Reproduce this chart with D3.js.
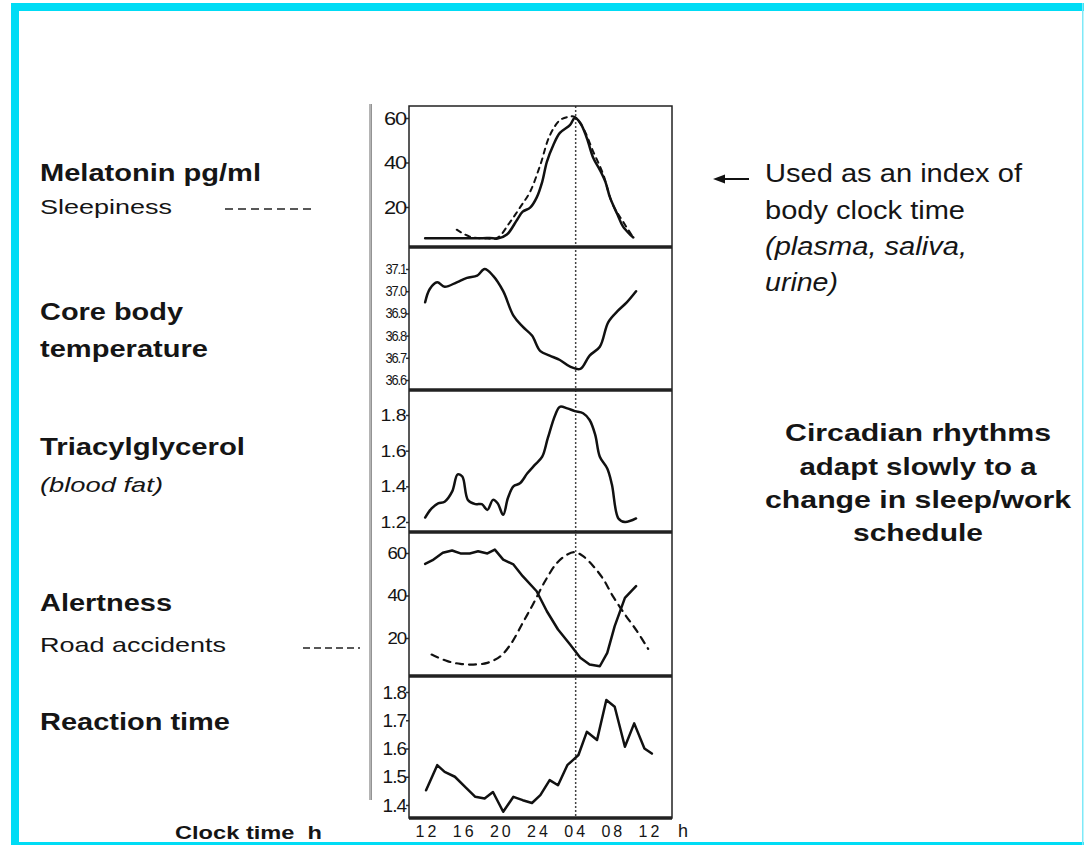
<!DOCTYPE html>
<html>
<head>
<meta charset="utf-8">
<script src="https://cdn.jsdelivr.net/npm/d3@7"></script>
<style>
body{margin:0;background:#fff}
svg{display:block}
text{font-family:"Liberation Sans",Arial,Helvetica,sans-serif;fill:#151515}
</style>
</head>
<body>
<svg id="grafico" width="1084" height="845"></svg>
<script>
// ---- dados (hora do relogio, 12 -> 36 = 12h do dia seguinte) ----
var rotulosX = ["12","16","20","24","04","08","12"];
var horasX = [12,16,20,24,28,32,36];

var melatonina = [[11.8,6],[14,6],[16,6],[18,6],[19.1,6],[19.6,5.8],[20.6,7.6],[21.7,14.3],[22.3,17.9],[23.1,19.7],[23.8,24.2],[24.4,31.3],[24.9,40.3],[25.6,47.9],[26.3,53.3],[27.4,56.9],[27.9,60],[28.5,57.8],[29.2,51],[29.9,42],[30.6,36.7],[31.2,31.3],[31.7,24.2],[32.5,16.6],[33.1,11.2],[34.2,6.3]];
var sonolencia = [[15.2,9.8],[16.6,6.7],[18.5,5.8],[19.6,6.2],[20.9,13],[22,19.7],[23.1,26.9],[24.2,39],[25.2,52],[26.3,59],[27.2,60.5],[27.9,60.5],[28.8,55.5],[29.9,44.8],[30.9,35.4],[32,21],[33.1,13.4],[34.2,6.3]];
var temperatura = [[11.8,36.95],[12.3,37.01],[13.1,37.04],[13.9,37.02],[15.2,37.04],[16.3,37.06],[17.4,37.07],[18.2,37.1],[19.1,37.07],[20.2,37.0],[21.3,36.89],[22.3,36.84],[23.3,36.8],[24.2,36.73],[25.2,36.71],[26.3,36.69],[27.4,36.66],[28.5,36.65],[29.5,36.71],[30.6,36.75],[31.5,36.86],[32.5,36.91],[33.5,36.95],[34.5,37.0]];
var triacilglicerol = [[11.8,1.225],[12.5,1.277],[13.2,1.305],[13.9,1.314],[14.7,1.37],[15.3,1.467],[15.8,1.455],[16.4,1.324],[17.2,1.3],[17.9,1.3],[18.5,1.268],[19.1,1.324],[19.6,1.305],[20.2,1.24],[20.7,1.333],[21.3,1.4],[22.0,1.417],[22.8,1.473],[23.6,1.52],[24.4,1.566],[25.0,1.67],[25.8,1.8],[26.3,1.846],[27.1,1.837],[27.9,1.822],[28.8,1.81],[29.5,1.772],[30.1,1.69],[30.6,1.566],[31.4,1.5],[31.9,1.41],[32.6,1.22],[33.3,1.2],[34.5,1.22]];
var alerta = [[11.8,54.9],[12.6,56.6],[13.7,60.1],[14.7,61.2],[15.6,59.8],[16.6,59.8],[17.5,60.8],[18.5,59.8],[19.3,61.6],[20.2,56.9],[21.3,54.6],[22.3,49.1],[23.8,42],[24.9,32.6],[26.1,24],[27.4,16.9],[28.5,10.7],[29.5,7.5],[30.6,6.7],[31.4,13],[32.2,25.6],[33.3,38.9],[34.5,44.4]];
var acidentes = [[12.5,12.2],[14.2,9.1],[15.6,7.8],[17.0,7.5],[18.5,8.3],[19.9,11.4],[21.1,17.7],[22.3,27.1],[23.4,35.8],[24.7,46.7],[26.0,55.4],[27.1,59.3],[27.9,60.4],[28.8,58.5],[29.9,53.8],[31.0,47.5],[32.0,39.7],[33.3,31.1],[34.6,23.2],[35.8,14.9]];
var reacao = [[11.9,1.452],[13.1,1.541],[13.9,1.517],[15.0,1.5],[16.1,1.464],[17.2,1.429],[18.2,1.423],[19.1,1.446],[20.2,1.376],[21.3,1.429],[22.3,1.417],[23.3,1.407],[24.2,1.435],[25.2,1.488],[26.1,1.47],[27.1,1.541],[27.7,1.559],[28.3,1.577],[29.2,1.659],[30.3,1.63],[31.3,1.772],[32.2,1.748],[33.3,1.606],[34.3,1.689],[35.4,1.6],[36.2,1.582]];

var ticksMel = [20,40,60];
var ticksTemp = [36.6,36.7,36.8,36.9,37.0,37.1];
var ticksTag = [1.2,1.4,1.6,1.8];
var ticksAlerta = [20,40,60];
var ticksReacao = [1.4,1.5,1.6,1.7,1.8];

// ---- layout ----
var svg = d3.select("#grafico");
var esq = 409, dir = 672;
var cortes = [106,247,390,532,676,818];
var ciano = "#00dcf5";

// moldura
svg.append("rect").attr("x",11).attr("y",3).attr("width",1073).attr("height",8).attr("fill",ciano);
svg.append("rect").attr("x",11).attr("y",3).attr("width",8).attr("height",842).attr("fill",ciano);
svg.append("rect").attr("x",11).attr("y",842).attr("width",1073).attr("height",3).attr("fill",ciano);
svg.append("rect").attr("x",1082).attr("y",3).attr("width",1.5).attr("height",842).attr("fill","#7fe9f8");

var x = d3.scaleLinear().domain([12,36]).range([427,650]);

var paineis = [
	{dom:[20,60], ran:[207,118], ticks:ticksMel, fmt:d3.format("d"), fs:19, sx:1.15, ls:-1},
	{dom:[36.6,37.1], ran:[380,269], ticks:ticksTemp, fmt:d3.format(".1f"), fs:14, sx:0.92, ls:-1.2},
	{dom:[1.2,1.8], ran:[522,415], ticks:ticksTag, fmt:d3.format(".1f"), fs:17, sx:1.15, ls:-0.5},
	{dom:[20,60], ran:[638,553], ticks:ticksAlerta, fmt:d3.format("d"), fs:17, sx:1.1, ls:-1},
	{dom:[1.4,1.8], ran:[805,692], ticks:ticksReacao, fmt:d3.format(".1f"), fs:19, sx:1.0, ls:-1}
];
paineis.forEach(function(p){ p.y = d3.scaleLinear().domain(p.dom).range(p.ran); });

// barra cinza a esquerda
svg.append("rect").attr("x",369).attr("y",104).attr("width",3).attr("height",696).attr("fill","#b4b4b4");
svg.append("line").attr("x1",371.5).attr("x2",371.5).attr("y1",104).attr("y2",800).attr("stroke","#8a8a8a").attr("stroke-width",0.8);

// eixos y
paineis.forEach(function(p, i){
	var g = svg.append("g").attr("transform","translate(" + esq + ",0)")
		.call(d3.axisLeft(p.y).tickValues(p.ticks).tickFormat(p.fmt).tickSize(3).tickPadding(2));
	g.select(".domain").remove();
	g.selectAll(".tick line").attr("stroke","#333").attr("stroke-width",1.5);
	g.selectAll(".tick text")
		.attr("font-family","Liberation Sans, Arial, sans-serif")
		.attr("font-size",p.fs).attr("fill","#2a2a2a")
		.attr("letter-spacing",p.ls)
		.attr("x", -3/p.sx)
		.attr("transform","scale(" + p.sx + ",1)");
});

// linha pontilhada das 04h
svg.append("line").attr("x1",x(28)).attr("x2",x(28)).attr("y1",cortes[0]).attr("y2",cortes[5])
	.attr("stroke","#444").attr("stroke-width",1.5).attr("stroke-dasharray","2,2");

// curvas
function desenha(dados, p, tracejado, curva, larg){
	var linha = d3.line().x(function(d){return x(d[0]);}).y(function(d){return p.y(d[1]);}).curve(curva);
	svg.append("path").datum(dados).attr("d",linha).attr("fill","none")
		.attr("stroke","#111").attr("stroke-width",larg)
		.attr("stroke-linejoin","round").attr("stroke-linecap","round")
		.attr("stroke-dasharray",tracejado ? tracejado : null);
}
var suave = d3.curveCatmullRom.alpha(0.5);
desenha(sonolencia, paineis[0], "5,5", suave, 2);
desenha(melatonina, paineis[0], null, suave, 2.5);
desenha(temperatura, paineis[1], null, suave, 2.5);
desenha(triacilglicerol, paineis[2], null, suave, 2.5);
desenha(acidentes, paineis[3], "7,6", suave, 2.2);
desenha(alerta, paineis[3], null, d3.curveLinear, 2.5);
desenha(reacao, paineis[4], null, d3.curveLinear, 2.5);

// caixas dos paineis
svg.append("rect").attr("x",esq).attr("y",cortes[0]).attr("width",dir-esq).attr("height",cortes[5]-cortes[0])
	.attr("fill","none").attr("stroke","#222").attr("stroke-width",1.5);
for(var k = 1; k < cortes.length; k++){
	svg.append("line").attr("x1",esq).attr("x2",dir).attr("y1",cortes[k]).attr("y2",cortes[k])
		.attr("stroke","#222").attr("stroke-width",3.5);
}

// eixo x
var gx = svg.append("g").attr("transform","translate(0," + cortes[5] + ")")
	.call(d3.axisBottom(x).tickValues(horasX).tickFormat(function(d,i){return rotulosX[i];}).tickSize(0));
gx.select(".domain").remove();
gx.selectAll(".tick text").attr("y",19).attr("dy",0)
	.attr("font-family","Liberation Sans, Arial, sans-serif").attr("font-size",16)
	.attr("letter-spacing",3).attr("fill","#2a2a2a");
svg.append("text").attr("x",683).attr("y",837).attr("text-anchor","middle").attr("font-size",18).attr("fill","#2a2a2a").text("h");

// textos
function texto(tx, ty, s, o){
	var t = svg.append("text").attr("x",tx).attr("y",ty).text(s)
		.attr("font-size",o.fs).attr("font-weight",o.bold ? "bold" : "normal")
		.attr("font-style",o.it ? "italic" : "normal")
		.style("white-space","pre");
	if(o.anchor) t.attr("text-anchor",o.anchor);
	if(o.w) t.attr("textLength",o.w).attr("lengthAdjust","spacingAndGlyphs");
	return t;
}
texto(40,181,"Melatonin pg/ml",{fs:23,bold:1,w:221});
texto(40,214,"Sleepiness",{fs:21,w:132});
texto(40,320,"Core body",{fs:23,bold:1,w:143});
texto(40,357,"temperature",{fs:23,bold:1,w:168});
texto(40,455,"Triacylglycerol",{fs:23,bold:1,w:205});
texto(40,492,"(blood fat)",{fs:21,it:1,w:123});
texto(40,611,"Alertness",{fs:23,bold:1,w:132});
texto(40,652,"Road accidents",{fs:21,w:186});
texto(40,730,"Reaction time",{fs:23,bold:1,w:190});
texto(175,839,"Clock time  h",{fs:18,bold:1,w:147});

svg.append("line").attr("x1",225).attr("x2",315).attr("y1",209).attr("y2",209)
	.attr("stroke","#222").attr("stroke-width",1.4).attr("stroke-dasharray","8,5");
svg.append("line").attr("x1",303).attr("x2",360).attr("y1",648).attr("y2",648)
	.attr("stroke","#222").attr("stroke-width",1.4).attr("stroke-dasharray","7,4");

texto(765,182,"Used as an index of",{fs:25,w:257});
texto(765,219,"body clock time",{fs:25,w:200});
texto(765,255,"(plasma, saliva,",{fs:25,it:1,w:202});
texto(765,291,"urine)",{fs:25,it:1,w:73});

// seta
svg.append("line").attr("x1",722).attr("x2",749).attr("y1",179).attr("y2",179).attr("stroke","#111").attr("stroke-width",2);
svg.append("path").attr("d","M713,179 L725,174.5 L725,183.5 Z").attr("fill","#111");

texto(918,441,"Circadian rhythms",{fs:24,bold:1,anchor:"middle",w:266});
texto(918,475,"adapt slowly to a",{fs:24,bold:1,anchor:"middle",w:237});
texto(918,508,"change in sleep/work",{fs:24,bold:1,anchor:"middle",w:306});
texto(918,541,"schedule",{fs:24,bold:1,anchor:"middle",w:130});
</script>
</body>
</html>
